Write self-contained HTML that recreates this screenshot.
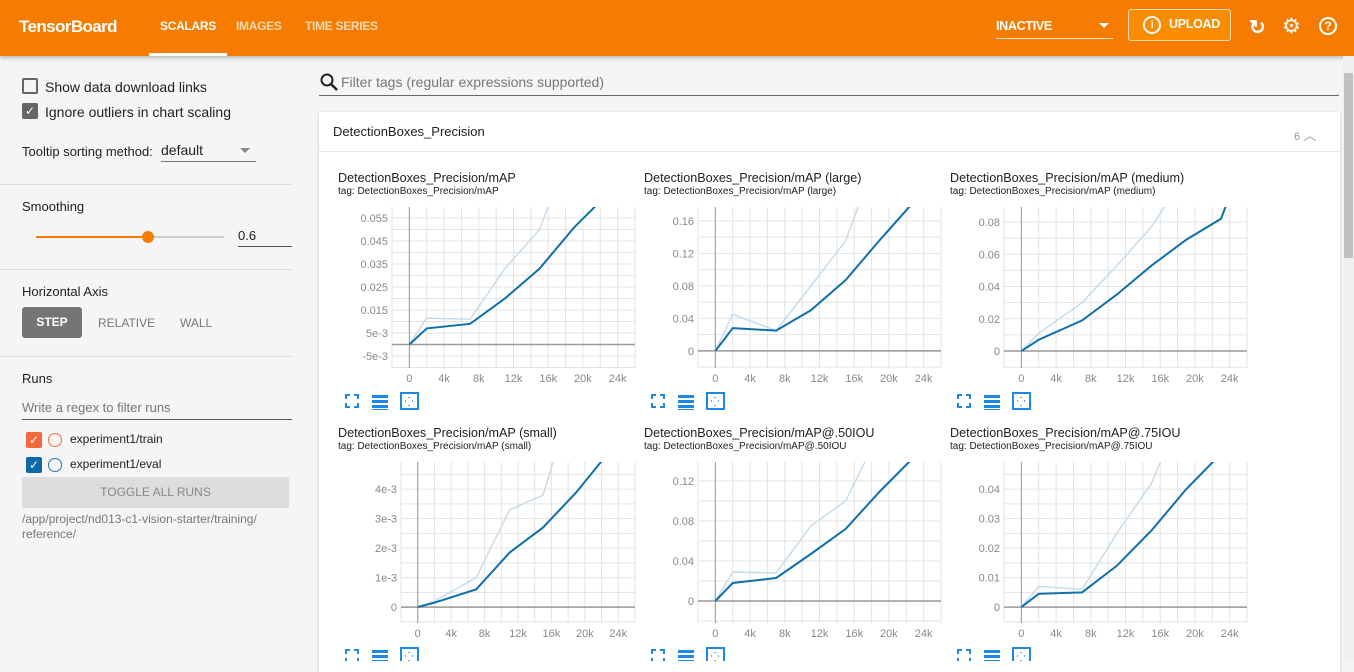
<!DOCTYPE html>
<html><head><meta charset="utf-8"><style>
*{box-sizing:border-box;margin:0;padding:0}
body{width:1354px;height:661px;overflow:hidden;background:#f5f5f5;font-family:"Liberation Sans",sans-serif;position:relative;color:#212121}
.abs{position:absolute}
#hdr{left:0;top:0;width:1354px;height:56px;background:#f57c00;box-shadow:0 2px 4px rgba(0,0,0,.25)}
.tab{top:19px;font-size:12px;font-weight:bold;color:rgba(255,255,255,.7);letter-spacing:-0.3px}
.side{font-size:14px;color:#212121}
.hr{height:1px;background:#ddd;left:0;width:292px}
.cb{width:16px;height:16px;border:2px solid #666;border-radius:2px}
.btn{font-size:12px;color:#777}
</style></head><body>
<div id="hdr" class="abs">
 <div class="abs" style="left:19px;top:17px;color:#fff;font-size:17px;font-weight:bold;letter-spacing:-0.6px">TensorBoard</div>
 <div class="abs tab" style="left:160px;color:#fff">SCALARS</div>
 <div class="abs" style="left:149px;top:53px;width:78px;height:3px;background:#fff"></div>
 <div class="abs tab" style="left:236px">IMAGES</div>
 <div class="abs tab" style="left:305px">TIME SERIES</div>
 <div class="abs" style="left:996px;top:19px;width:117px;height:20px;border-bottom:1px solid rgba(255,255,255,.8);color:#fff;font-size:12.5px;font-weight:bold;letter-spacing:-0.3px">INACTIVE<span style="position:absolute;right:4px;top:4px;border:5px solid transparent;border-top:5px solid #fff"></span></div>
 <div class="abs" style="left:1128px;top:9px;width:103px;height:32px;border:1px solid rgba(255,255,255,.7);border-radius:3px;background:#fb8c00;color:#fff;font-size:12.5px;font-weight:bold;padding:7px 0 0 40px;letter-spacing:-0.3px">UPLOAD<span style="position:absolute;left:14px;top:6px;width:18px;height:18px;border:2px solid #fff;border-radius:50%;font-size:11px;text-align:center;line-height:14px">i</span></div>
 <div class="abs" style="left:1249px;top:15px;color:#fff;font-size:20px;font-weight:bold">↻</div>
 <div class="abs" style="left:1282px;top:14px;color:#fff;font-size:21px">⚙</div>
 <div class="abs" style="left:1319px;top:17px;width:18px;height:18px;border:2px solid #fff;border-radius:50%;color:#fff;font-size:12px;font-weight:bold;text-align:center;line-height:14px">?</div>
</div>

<div class="abs cb" style="left:22px;top:78px"></div>
<div class="abs side" style="left:45px;top:79px">Show data download links</div>
<div class="abs cb" style="left:22px;top:103px;background:#666;color:#fff;font-size:12px;line-height:12px;text-align:center">✓</div>
<div class="abs side" style="left:45px;top:104px">Ignore outliers in chart scaling</div>
<div class="abs" style="left:22px;top:144px;font-size:13px">Tooltip sorting method:</div>
<div class="abs" style="left:161px;top:142px;width:95px;height:20px;border-bottom:1px solid #777;font-size:14px">default<span style="position:absolute;right:6px;top:6px;border:5px solid transparent;border-top:5px solid #888"></span></div>
<div class="abs hr" style="top:184px"></div>
<div class="abs" style="left:22px;top:199px;font-size:13px">Smoothing</div>
<div class="abs" style="left:36px;top:236px;width:112px;height:2px;background:#f57c00"></div>
<div class="abs" style="left:148px;top:236px;width:76px;height:2px;background:#ccc"></div>
<div class="abs" style="left:142px;top:231px;width:12px;height:12px;border-radius:50%;background:#f57c00"></div>
<div class="abs" style="left:238px;top:228px;width:54px;height:19px;border-bottom:1px solid #555;font-size:13px">0.6</div>
<div class="abs hr" style="top:269px"></div>
<div class="abs" style="left:22px;top:284px;font-size:13px">Horizontal Axis</div>
<div class="abs" style="left:22px;top:307px;width:60px;height:31px;background:#757575;border-radius:3px;color:#fff;font-size:12px;font-weight:bold;text-align:center;line-height:31px">STEP</div>
<div class="abs btn" style="left:98px;top:316px">RELATIVE</div>
<div class="abs btn" style="left:180px;top:316px">WALL</div>
<div class="abs hr" style="top:356px"></div>
<div class="abs" style="left:22px;top:371px;font-size:13px">Runs</div>
<div class="abs" style="left:22px;top:400px;width:270px;height:20px;border-bottom:1px solid #555;font-size:13px;color:#777">Write a regex to filter runs</div>
<div class="abs" style="left:26px;top:432px;width:16px;height:16px;background:#f4683e;color:#fff;font-size:12px;text-align:center;line-height:16px;border-radius:2px">✓</div>
<div class="abs" style="left:48px;top:433px;width:14px;height:14px;border:1.5px solid #f4683e;border-radius:50%"></div>
<div class="abs" style="left:70px;top:432px;font-size:12px">experiment1/train</div>
<div class="abs" style="left:26px;top:457px;width:16px;height:16px;background:#0d68a8;color:#fff;font-size:12px;text-align:center;line-height:16px;border-radius:2px">✓</div>
<div class="abs" style="left:48px;top:458px;width:14px;height:14px;border:1.5px solid #1f77b4;border-radius:50%"></div>
<div class="abs" style="left:70px;top:457px;font-size:12px">experiment1/eval</div>
<div class="abs" style="left:22px;top:477px;width:267px;height:31px;background:#ddd;border-radius:2px;color:#888;font-size:12px;text-align:center;line-height:31px">TOGGLE ALL RUNS</div>
<div class="abs" style="left:22px;top:512px;font-size:12px;color:#777;line-height:15px">/app/project/nd013-c1-vision-starter/training/<br>reference/</div>

<div class="abs" style="left:320px;top:72px;font-size:16px"><svg width="20" height="20"><circle cx="7" cy="8" r="5.5" fill="none" stroke="#222" stroke-width="2"/><line x1="11" y1="12" x2="17" y2="18" stroke="#222" stroke-width="2.5"/></svg></div>
<div class="abs" style="left:319px;top:72px;width:1020px;height:24px;border-bottom:1px solid #666;padding-left:22px;font-size:14px;color:#777;padding-top:2px">Filter tags (regular expressions supported)</div>
<div class="abs" style="left:319px;top:112px;width:1021px;height:560px;background:#fff;box-shadow:0 1px 3px rgba(0,0,0,.2)"></div>
<div class="abs" style="left:333px;top:124px;font-size:13px">DetectionBoxes_Precision</div>
<div class="abs" style="left:1294px;top:125px;font-size:11px;color:#999">6 <span style="font-size:13px">︿</span></div>
<div class="abs" style="left:319px;top:151px;width:1021px;height:1px;background:#e6e6e6"></div>
<div class="abs" style="left:1343px;top:56px;width:11px;height:605px;background:#f0f0f0"><div style="position:absolute;left:1px;top:17px;width:9px;height:185px;background:#c1c1c1"></div></div>

<svg id="charts" class="abs" style="left:0;top:0" width="1354" height="661"></svg>
<script>
const xTicks=[0,4000,8000,12000,16000,20000,24000];
const xTickLabels=["0","4k","8k","12k","16k","20k","24k"];
const titles=["DetectionBoxes_Precision/mAP","DetectionBoxes_Precision/mAP (large)","DetectionBoxes_Precision/mAP (medium)","DetectionBoxes_Precision/mAP (small)","DetectionBoxes_Precision/mAP@.50IOU","DetectionBoxes_Precision/mAP@.75IOU"];
const steps=[0,2000,7000,11000,15000,19000,23000,25000];
const smooth1=[0,0.007,0.009,0.020,0.033,0.051,0.066,0.074];
const raw1=[0,0.0115,0.011,0.033,0.050,0.090,0.11,0.12];
const smooth2=[0,0.028,0.025,0.050,0.087,0.137,0.185,0.21];
const raw2=[0,0.045,0.025,0.080,0.135,0.25,0.28,0.3];
const smooth3=[0,0.007,0.019,0.035,0.053,0.069,0.082,0.11];
const raw3=[0,0.011,0.030,0.053,0.077,0.11,0.12,0.13];
const smooth4=[0,0.00015,0.0006,0.00185,0.0027,0.0039,0.0053,0.006];
const raw4=[0,0.0002,0.001,0.0033,0.0038,0.0075,0.008,0.009];
const smooth5=[0,0.018,0.023,0.047,0.072,0.110,0.145,0.16];
const raw5=[0,0.029,0.028,0.075,0.100,0.17,0.19,0.2];
const smooth6=[0,0.0045,0.005,0.014,0.026,0.040,0.052,0.058];
const raw6=[0,0.007,0.006,0.025,0.042,0.07,0.08,0.09];
const yTicks1=[-0.005,0.005,0.015,0.025,0.035,0.045,0.055],yLab1=["-5e-3","5e-3","0.015","0.025","0.035","0.045","0.055"];
const yTicks2=[0,0.04,0.08,0.12,0.16],yLab2=["0","0.04","0.08","0.12","0.16"];
const yTicks3=[0,0.02,0.04,0.06,0.08],yLab3=["0","0.02","0.04","0.06","0.08"];
const yTicks4=[0,0.001,0.002,0.003,0.004],yLab4=["0","1e-3","2e-3","3e-3","4e-3"];
const yTicks5=[0,0.04,0.08,0.12],yLab5=["0","0.04","0.08","0.12"];
const yTicks6=[0,0.01,0.02,0.03,0.04],yLab6=["0","0.01","0.02","0.03","0.04"];
const svg=document.getElementById('charts');const NS='http://www.w3.org/2000/svg';
function mk(t,a,p){const e=document.createElementNS(NS,t);for(const k in a)e.setAttribute(k,a[k]);(p||svg).appendChild(e);return e;}
const cfg=[
 {ox:338,oy:0,L:392,R:635,yd:[-0.0102,0.0598],yt:yTicks1,yl:yLab1,s:smooth1,r:raw1},
 {ox:644,oy:0,L:698,R:941,yd:[-0.021,0.177],yt:yTicks2,yl:yLab2,s:smooth2,r:raw2},
 {ox:950,oy:0,L:1004,R:1247,yd:[-0.0105,0.0893],yt:yTicks3,yl:yLab3,s:smooth3,r:raw3},
 {ox:338,oy:255,L:401,R:635,yd:[-0.00054,0.00492],yt:yTicks4,yl:yLab4,s:smooth4,r:raw4},
 {ox:644,oy:255,L:698,R:941,yd:[-0.022,0.139],yt:yTicks5,yl:yLab5,s:smooth5,r:raw5},
 {ox:950,oy:255,L:1004,R:1247,yd:[-0.0054,0.0492],yt:yTicks6,yl:yLab6,s:smooth6,r:raw6}];
cfg.forEach((c,i)=>{
 const T=207+c.oy,B=368+c.oy;
 const g=mk('g',{});
 
 
 const xs=v=>c.L+(v+2000)/28000*(c.R-c.L);
 const ys=v=>B-(v-c.yd[0])/(c.yd[1]-c.yd[0])*(B-T);
 const t=mk('text',{x:c.ox,y:182+c.oy,'font-size':12.6,fill:'#212121','font-family':'Liberation Sans'},g);t.textContent=titles[i];
 
 const t2=mk('text',{x:c.ox,y:194+c.oy,'font-size':10,fill:'#212121','font-family':'Liberation Sans'},g);t2.textContent='tag: '+titles[i];
 
 for(let v=-2000;v<=26000;v+=2000){const x=xs(v);mk('line',{x1:x,x2:x,y1:T,y2:B,stroke:'#e3e3e3','stroke-width':1},g);}
 const st=c.yt[1]-c.yt[0];
 for(let k=-4;k<40;k++){const v=c.yt[0]+k*st/2;const y=ys(v);if(y<T||y>B)continue;mk('line',{x1:c.L,x2:c.R,y1:y,y2:y,stroke:'#e3e3e3'},g);}
 mk('line',{x1:xs(0),x2:xs(0),y1:T,y2:B,stroke:'#999'},g);
 mk('line',{x1:c.L,x2:c.R,y1:ys(0),y2:ys(0),stroke:'#999','stroke-width':1.5},g);
 xTicks.forEach((v,j)=>{const e=mk('text',{x:xs(v),y:B+14,'font-size':11,fill:'#888','text-anchor':'middle','font-family':'Liberation Sans'},g);e.textContent=xTickLabels[j];
  });
 c.yt.forEach((v,j)=>{const e=mk('text',{x:c.L-4,y:ys(v)+4,'font-size':11,fill:'#888','text-anchor':'end','font-family':'Liberation Sans'},g);e.textContent=c.yl[j];
  });
 const cid='clip'+i;const cp=mk('clipPath',{id:cid},g);mk('rect',{x:c.L,y:T,width:c.R-c.L,height:B-T},cp);
 const pr=mk('polyline',{points:steps.map((s,j)=>xs(s)+','+ys(c.r[j])).join(' '),fill:'none',stroke:'#c6dcec','stroke-width':1.5,'clip-path':'url(#'+cid+')'},g);
 
 const ps=mk('polyline',{points:steps.map((s,j)=>xs(s)+','+ys(c.s[j])).join(' '),fill:'none',stroke:'#0f6fab','stroke-width':2,'clip-path':'url(#'+cid+')'},g);
 
 const iy=395+c.oy,ix=c.ox+8;
 const i1=mk('g',{stroke:'#1e88e5','stroke-width':2,fill:'none'},g);
 
 mk('path',{d:`M${ix} ${iy+4}v-4h4M${ix+8} ${iy}h4v4M${ix+12} ${iy+8}v4h-4M${ix+4} ${iy+12}h-4v-4`},i1);
 const i2=mk('g',{fill:'#1e88e5'},g);
 
 for(let k=0;k<3;k++)mk('rect',{x:ix+26,y:iy+k*5,width:16,height:3},i2);
 mk('rect',{x:ix+26,y:iy+14,width:16,height:1},i2);
 const i3=mk('g',{},g);
 
 mk('rect',{x:ix+55,y:iy-2,width:17,height:16,fill:'none',stroke:'#1e88e5','stroke-width':2},i3);
 mk('path',{d:`M${ix+63} ${iy+2}v1M${ix+63} ${iy+10}v1M${ix+59} ${iy+6}h1M${ix+66} ${iy+6}h1`,stroke:'#1e88e5','stroke-width':1.5},i3);
});
</script>
</body></html>
